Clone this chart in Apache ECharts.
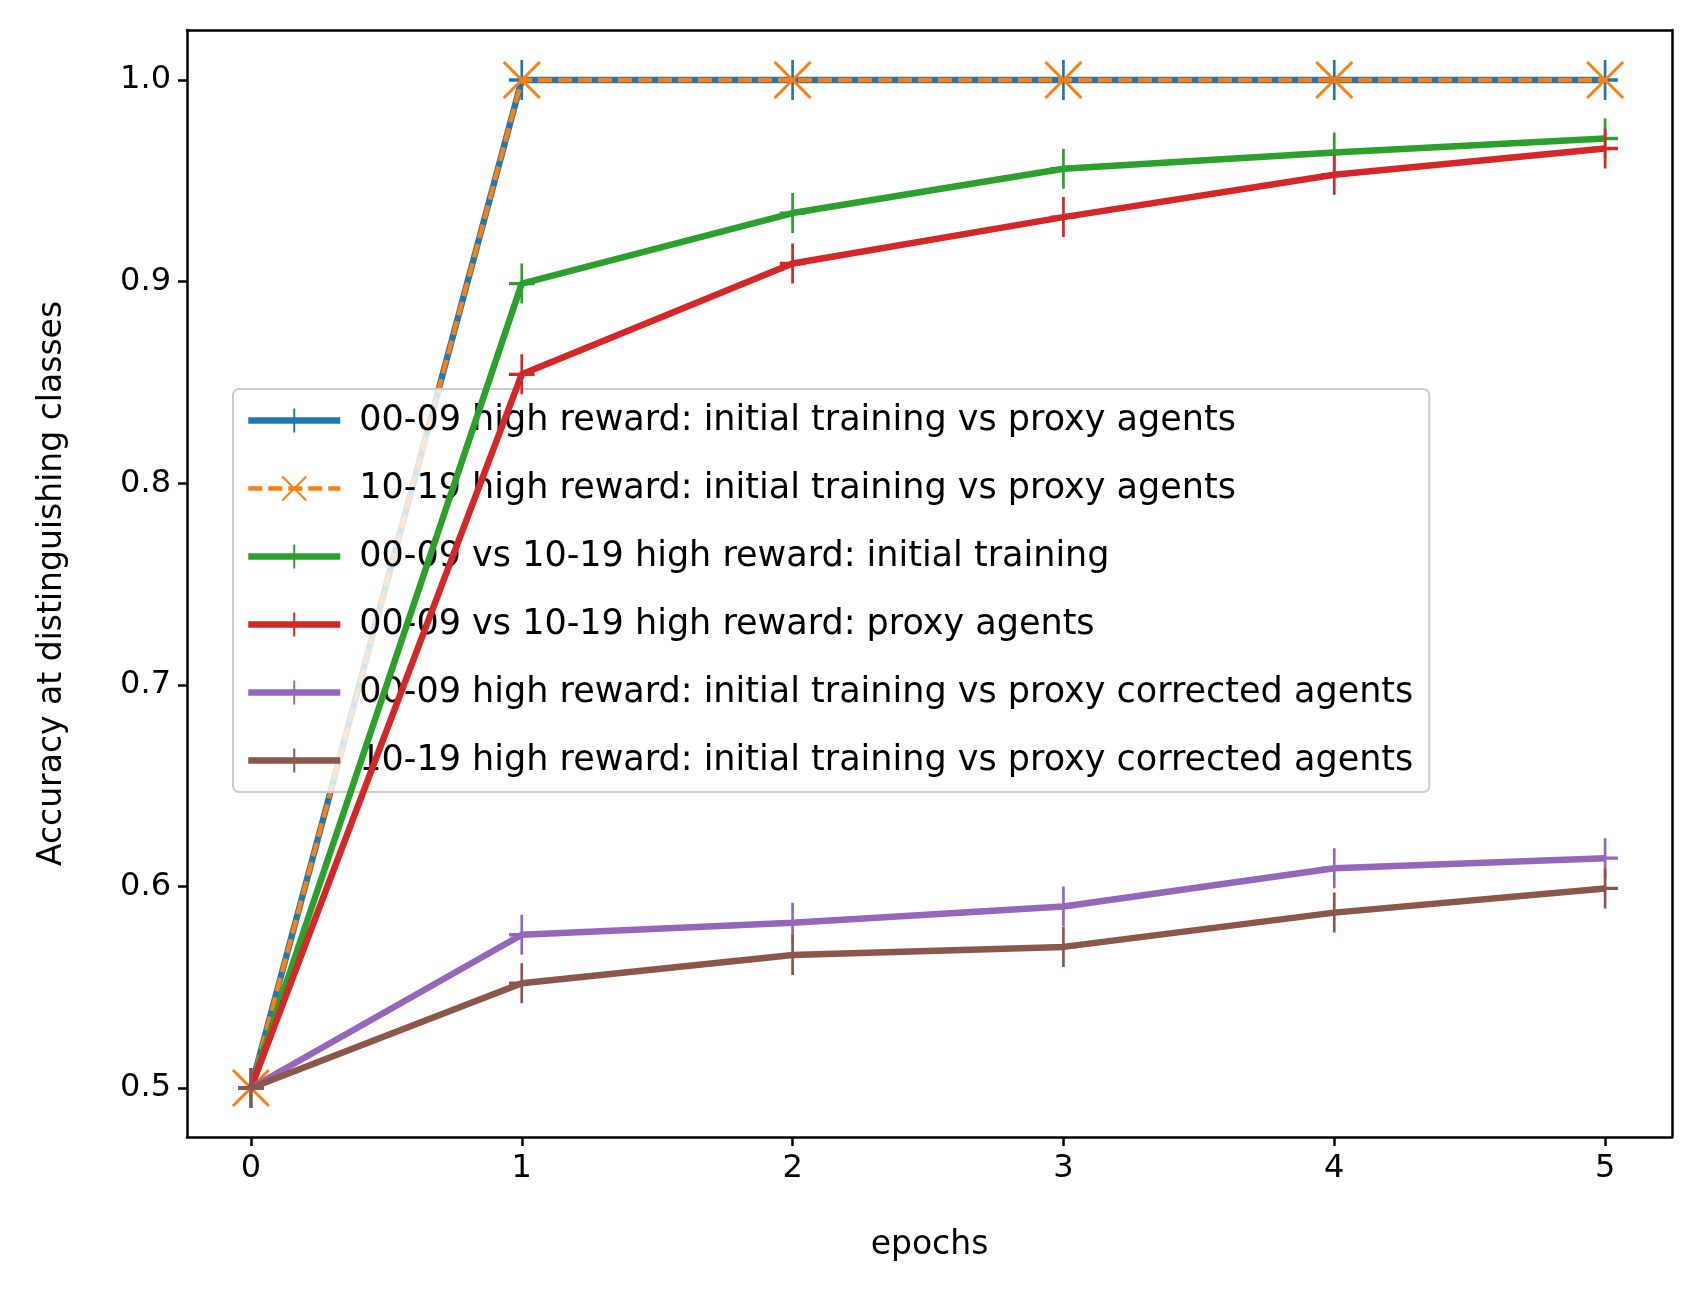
<!DOCTYPE html>
<html><head><meta charset="utf-8">
<script src="https://cdn.jsdelivr.net/npm/echarts@6/dist/echarts.min.js"></script>
<style>html,body{margin:0;background:#fff}#c{width:1702px;height:1298px}</style>
</head><body><div id="c"></div>
<script>
var epochs = [0, 1, 2, 3, 4, 5];
var xTicks = [0, 1, 2, 3, 4, 5];
var yTicks = [0.5, 0.6, 0.7, 0.8, 0.9, 1.0];
var names = [
  '00-09 high reward: initial training vs proxy agents',
  '10-19 high reward: initial training vs proxy agents',
  '00-09 vs 10-19 high reward: initial training',
  '00-09 vs 10-19 high reward: proxy agents',
  '00-09 high reward: initial training vs proxy corrected agents',
  '10-19 high reward: initial training vs proxy corrected agents'
];
var blueVals   = [0.5, 1.0, 1.0, 1.0, 1.0, 1.0];
var orangeVals = [0.5, 1.0, 1.0, 1.0, 1.0, 1.0];
var greenVals  = [0.5, 0.899, 0.934, 0.956, 0.964, 0.971];
var redVals    = [0.5, 0.854, 0.909, 0.932, 0.953, 0.966];
var purpleVals = [0.5, 0.576, 0.582, 0.590, 0.609, 0.614];
var brownVals  = [0.5, 0.552, 0.566, 0.570, 0.587, 0.599];
var colors = ['#1f77b4', '#ff7f0e', '#2ca02c', '#d62728', '#9467bd', '#8c564b'];
var allVals = [blueVals, orangeVals, greenVals, redVals, purpleVals, brownVals];

var plus = 'path://M0,-20L0,20M-16,0L16,0';
var cross = 'path://M-1,-1L1,1M-1,1L1,-1';

var series = allVals.map(function (vals, i) {
  var isX = i === 1;
  return {
    name: names[i],
    type: 'line',
    data: epochs.map(function (e, k) { return [e, vals[k]]; }),
    symbol: isX ? cross : plus,
    symbolSize: isX ? [36, 36] : [32, 40],
    symbolKeepAspect: true,
    lineStyle: { color: colors[i], width: isX ? 4.5 : 6.5, type: isX ? [14, 6] : 'solid' },
    itemStyle: { color: 'none', borderColor: colors[i], borderWidth: 3 },
    z: 2 + i
  };
});

var legendData = names.map(function (n, i) {
  return { name: n, lineStyle: { width: i === 1 ? 4.5 : 6.5 } };
});

var chart = echarts.init(document.getElementById('c'));
chart.setOption({
  animation: false,
  textStyle: { fontFamily: 'DejaVu Sans' },
  grid: [{ left: 187, right: 30, top: 30, bottom: 161 }],
  xAxis: [{
    type: 'value', min: -0.236, max: 5.247,
    axisLine: { onZero: false, lineStyle: { color: '#000', width: 2.5 } },
    axisTick: { customValues: xTicks, length: 9, lineStyle: { color: '#000', width: 2.5 } },
    axisLabel: { customValues: xTicks, color: '#000', fontSize: 32, margin: 16 },
    splitLine: { show: false },
    name: 'epochs', nameLocation: 'middle', nameGap: 92,
    nameTextStyle: { color: '#000', fontSize: 33 }
  }, {
    type: 'value', min: -0.236, max: 5.247, position: 'top',
    axisLine: { show: true, onZero: false, lineStyle: { color: '#000', width: 2.5 } },
    axisTick: { show: false }, axisLabel: { show: false }, splitLine: { show: false }
  }],
  yAxis: [{
    type: 'value', min: 0.4757, max: 1.0248,
    axisLine: { show: true, onZero: false, lineStyle: { color: '#000', width: 2.5 } },
    axisTick: { show: true, customValues: yTicks, length: 9, lineStyle: { color: '#000', width: 2.5 } },
    axisLabel: { customValues: yTicks, color: '#000', fontSize: 32, margin: 16,
      formatter: function (v) { return v.toFixed(1); } },
    splitLine: { show: false },
    name: 'Accuracy at distinguishing classes', nameLocation: 'middle', nameGap: 118,
    nameTextStyle: { color: '#000', fontSize: 33 }
  }, {
    type: 'value', min: 0.4757, max: 1.0248, position: 'right',
    axisLine: { show: true, onZero: false, lineStyle: { color: '#000', width: 2.5 } },
    axisTick: { show: false }, axisLabel: { show: false }, splitLine: { show: false }
  }],
  legend: {
    left: 233, top: 389, orient: 'vertical',
    itemWidth: 92, itemHeight: 30, itemGap: 33,
    padding: [14, 16, 14, 12],
    backgroundColor: 'rgba(255,255,255,0.8)',
    borderColor: '#ccc', borderWidth: 2, borderRadius: 6,
    textStyle: { color: '#000', fontSize: 35, padding: [0, 0, 0, 14] },
    data: legendData
  },
  series: series
});
</script></body></html>
